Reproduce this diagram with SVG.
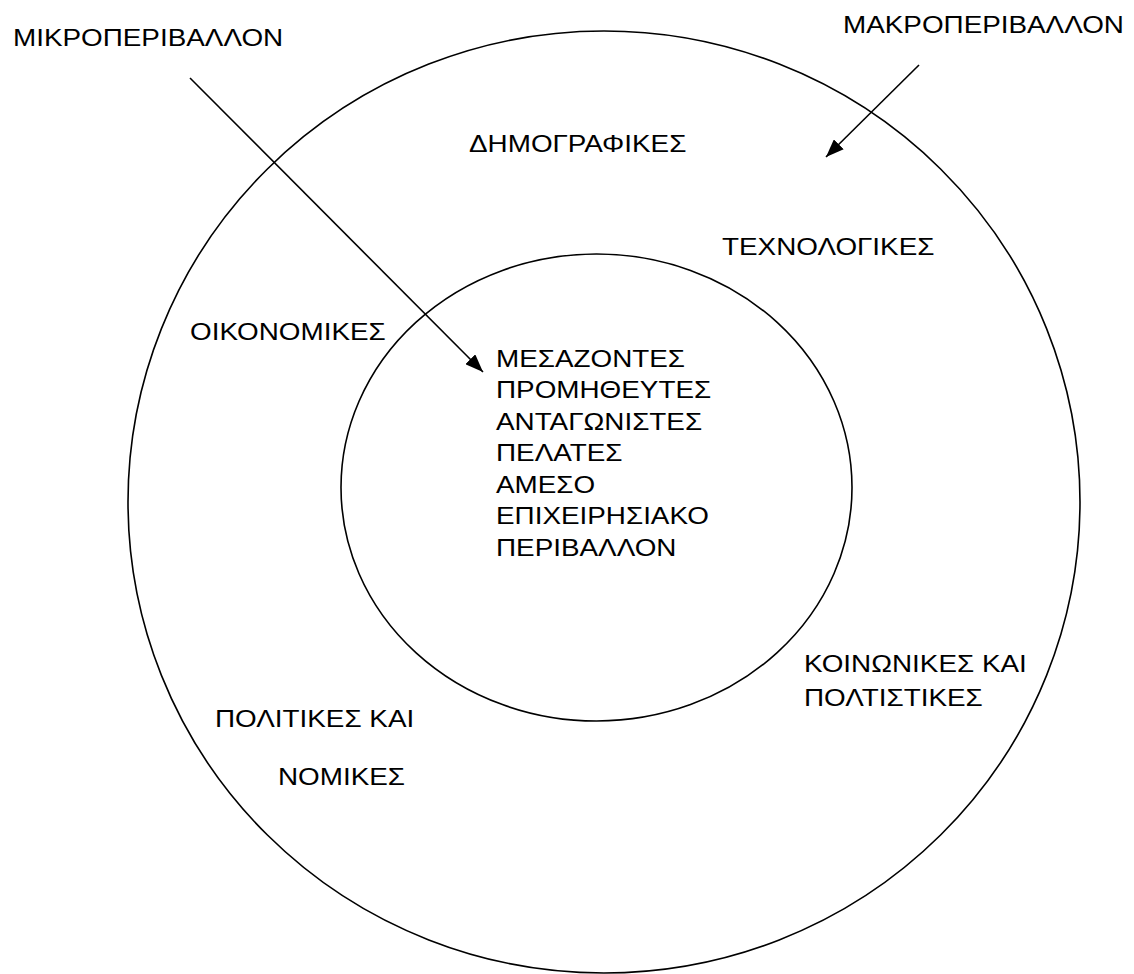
<svg xmlns="http://www.w3.org/2000/svg" width="1134" height="974" viewBox="0 0 1134 974">
<style>
text { font-family: "Liberation Sans", Arial, sans-serif; font-size: 24px; fill: #000; }
.ring { fill: none; stroke: #000; stroke-width: 1.6; }
.arrow { stroke: #000; stroke-width: 1.6; fill: none; marker-end: url(#head); }
</style>
<defs>
<marker id="head" markerWidth="20" markerHeight="14" refX="18" refY="7" orient="auto" markerUnits="userSpaceOnUse">
<path d="M0,0 L18,7 L0,14 Z" fill="#000"/>
</marker>
</defs>
<rect width="1134" height="974" fill="#fff"/>
<g id="outer-circle"><ellipse class="ring" cx="604" cy="502" rx="476" ry="471"/></g>
<g id="inner-circle"><ellipse class="ring" cx="596.5" cy="487.5" rx="255.5" ry="233.5"/></g>
<g id="connectors">
<line class="arrow" x1="190" y1="78" x2="483" y2="372"/>
<line class="arrow" x1="919" y1="65" x2="826" y2="157"/>
</g>
<g id="label-micro"><text transform="translate(13,46) scale(1.16,1)">ΜΙΚΡΟΠΕΡΙΒΑΛΛΟΝ</text></g>
<g id="label-macro"><text transform="translate(843,33) scale(1.16,1)">ΜΑΚΡΟΠΕΡΙΒΑΛΛΟΝ</text></g>
<g id="label-demo"><text transform="translate(469,152) scale(1.16,1)">ΔΗΜΟΓΡΑΦΙΚΕΣ</text></g>
<g id="label-tech"><text transform="translate(722,255) scale(1.16,1)">ΤΕΧΝΟΛΟΓΙΚΕΣ</text></g>
<g id="label-econ"><text transform="translate(190,340) scale(1.16,1)">ΟΙΚΟΝΟΜΙΚΕΣ</text></g>
<g id="label-inner">
<text transform="translate(496,366.5) scale(1.16,1)">ΜΕΣΑΖΟΝΤΕΣ</text>
<text transform="translate(496,398) scale(1.16,1)">ΠΡΟΜΗΘΕΥΤΕΣ</text>
<text transform="translate(496,429.5) scale(1.16,1)">ΑΝΤΑΓΩΝΙΣΤΕΣ</text>
<text transform="translate(496,461) scale(1.16,1)">ΠΕΛΑΤΕΣ</text>
<text transform="translate(496,492.5) scale(1.16,1)">ΑΜΕΣΟ</text>
<text transform="translate(496,524) scale(1.16,1)">ΕΠΙΧΕΙΡΗΣΙΑΚΟ</text>
<text transform="translate(496,555.5) scale(1.16,1)">ΠΕΡΙΒΑΛΛΟΝ</text>
</g>
<g id="label-social">
<text transform="translate(804,672) scale(1.16,1)">ΚΟΙΝΩΝΙΚΕΣ ΚΑΙ</text>
<text transform="translate(804,706) scale(1.16,1)">ΠΟΛΤΙΣΤΙΚΕΣ</text>
</g>
<g id="label-political">
<text transform="translate(215,727) scale(1.16,1)">ΠΟΛΙΤΙΚΕΣ ΚΑΙ</text>
<text transform="translate(278,785) scale(1.16,1)">ΝΟΜΙΚΕΣ</text>
</g>
</svg>
